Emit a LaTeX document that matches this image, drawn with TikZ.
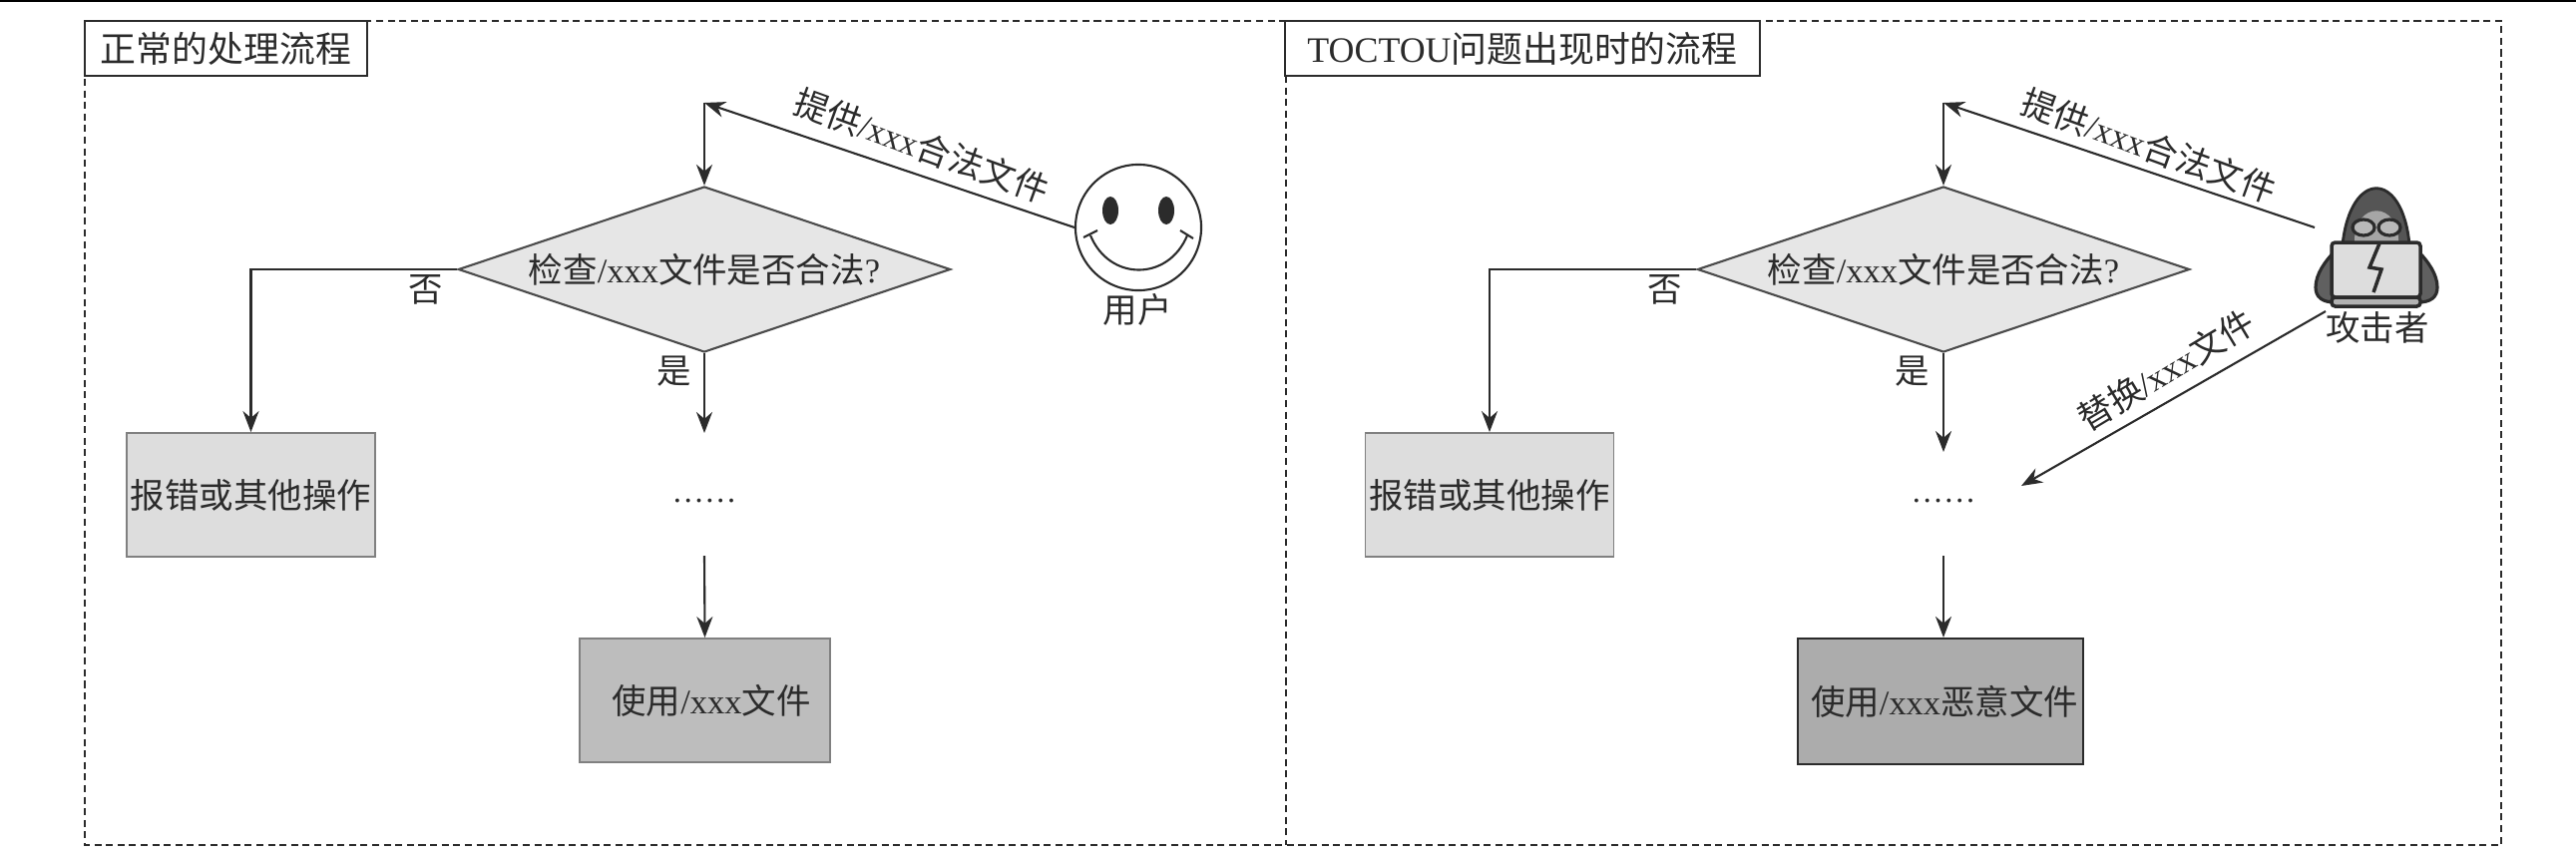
\documentclass[tikz,border=0pt]{standalone}
\usepackage{fontspec}
\setmainfont{Liberation Serif}
\newfontfamily\cjk{Noto Sans CJK SC}
\usetikzlibrary{arrows.meta,shapes.geometric}
\newcommand{\zh}[1]{{\cjk #1}}
\definecolor{inkc}{HTML}{2B2B2B}
\definecolor{errc}{HTML}{DDDDDD}
\definecolor{askc}{HTML}{E6E6E6}
\definecolor{usec}{HTML}{BDBDBD}
\definecolor{badc}{HTML}{ACACAC}
\tikzset{
  txt/.style={text=inkc,inner sep=0pt,font=\fontsize{9.8pt}{12pt}\selectfont},
  title/.style={draw=inkc,line width=0.6pt,fill=white,text=inkc,inner sep=0pt,minimum height=0.55cm,font=\fontsize{10.2pt}{12pt}\selectfont},
  frame/.style={draw=inkc,line width=0.55pt,dash pattern=on 2pt off 1.3pt},
  ask/.style={txt,draw=inkc!85,line width=0.6pt,fill=askc,diamond,shape aspect=2.97,minimum width=4.93cm,minimum height=1.66cm},
  errbox/.style={txt,draw=gray,line width=0.5pt,fill=errc,minimum width=2.49cm,minimum height=1.24cm},
  conn/.style={draw=inkc,line width=0.6pt},
}
\begin{document}
\begin{tikzpicture}[>={Stealth[length=2.1mm,width=1.6mm]},x=0.01cm,y=-0.01cm]
  \useasboundingbox (0,0) rectangle (2582,860);
  \fill[black] (0,0) rectangle (2582,2);
  % dashed panels
  \draw[frame] (85,21) rectangle (2507,847);
  \draw[frame] (1289,76) -- (1289,847);
  \node[title,minimum width=2.83cm] (t1) at (226.5,48.5) {\zh{正常的处理流程}};
  \node[title,minimum width=4.76cm] (t2) at (1526,48.5) {TOCTOU\zh{问题出现时的流程}};

  % left panel
  \coordinate (j1) at (706,103);
  \node[ask] (d1) at (706,270) {\zh{检查}/xxx\zh{文件是否合法}?};
  \node[errbox] (e1) at (251.5,496) {\raisebox{-0.01cm}{\zh{报错或其他操作}}};
  \coordinate (k1) at (706,434);
  \node[txt,font=\fontsize{9.2pt}{12pt}\selectfont] (m1) at (706,502) {……};
  \coordinate (n1) at (706,557);
  \node[txt,draw=gray,line width=0.5pt,fill=usec,minimum width=2.51cm,minimum height=1.24cm] (u1) at (706.5,702) {\hspace*{0.13cm}\raisebox{-0.03cm}{\zh{使用}/xxx\zh{文件}}};
  \node[circle,draw=inkc,line width=0.6pt,minimum size=1.26cm,inner sep=0pt] (user) at (1141,228) {};
  \fill[inkc] (1113,211) ellipse (8 and 14);
  \fill[inkc] (1169,211) ellipse (8 and 14);
  \draw[inkc,line width=0.6pt] (1093,236) .. controls (1112,282) and (1171,282) .. (1190,236);
  \draw[inkc,line width=0.6pt] (1086,238) -- (1100,231);
  \draw[inkc,line width=0.6pt] (1183,231) -- (1196,239);
  \node[txt] (l1) at (1140,310) {\zh{用户}};
  \node[txt,rotate=-20] (s1) at (924,146) {\zh{提供}/xxx\zh{合法文件}};
  \node[txt] (no1) at (427,290) {\zh{否}};
  \node[txt] (yes1) at (676,372) {\zh{是}};
  \draw[conn,->] (user.west) -- (j1);
  \draw[conn,->] (j1) -- (d1.north);
  \draw[conn,->] (d1.west) -| (e1.north);
  \draw[conn,->] (d1.south) -- (k1);
  \draw[conn,->] (n1) -- (u1.north);

  % right panel
  \coordinate (j2) at (1948,103);
  \node[ask] (d2) at (1948,270) {\zh{检查}/xxx\zh{文件是否合法}?};
  \node[errbox] (e2) at (1493,496) {\raisebox{-0.01cm}{\zh{报错或其他操作}}};
  \coordinate (k2) at (1948,453);
  \node[txt,font=\fontsize{9.2pt}{12pt}\selectfont] (m2) at (1948,502) {……};
  \coordinate (n2) at (1948,557);
  \node[txt,draw=inkc,line width=0.6pt,fill=badc,minimum width=2.86cm,minimum height=1.26cm] (u2) at (1945,703) {\hspace*{0.08cm}\raisebox{-0.03cm}{\zh{使用}/xxx\zh{恶意文件}}};
  \coordinate (a1) at (2320,228);
  \coordinate (a2) at (2331,312);
  \coordinate (r2) at (2026,487);
  % attacker
  \filldraw[fill=inkc!75,draw=inkc,line width=0.9pt] (2342,250) .. controls (2330,262) and (2321,275) .. (2321,288) .. controls (2321,298) and (2328,303) .. (2340,303) -- (2424,303) .. controls (2436,303) and (2443,298) .. (2443,288) .. controls (2443,275) and (2434,262) .. (2422,250) -- cycle;
  \filldraw[fill=inkc!80,draw=inkc,line width=0.8pt] (2348,245) .. controls (2356,170) and (2408,170) .. (2415,245) -- cycle;
  \fill[gray!70] (2360,245) .. controls (2358,200) and (2406,200) .. (2404,245) -- cycle;
  \filldraw[fill=gray!55,draw=inkc,line width=0.9pt] (2369,228) ellipse (11 and 8);
  \filldraw[fill=gray!55,draw=inkc,line width=0.9pt] (2395,228) ellipse (11 and 8);
  \filldraw[fill=errc,draw=inkc,line width=1pt,rounded corners=1pt] (2337,243) rectangle (2426,298);
  \filldraw[fill=gray!60,draw=inkc,line width=1pt,rounded corners=1pt] (2337,298) rectangle (2426,307);
  \draw[inkc,line width=1pt] (2385,244) -- (2375,268) -- (2387,270) -- (2379,293);
  \node[txt] (l2) at (2383,328) {\zh{攻击者}};
  \node[txt,rotate=-20] (s2) at (2154,146) {\zh{提供}/xxx\zh{合法文件}};
  \node[txt,rotate=31] (s3) at (2171,371) {\zh{替换}/xxx\zh{文件}};
  \node[txt] (no2) at (1669,290) {\zh{否}};
  \node[txt] (yes2) at (1917,372) {\zh{是}};
  \draw[conn,->] (a1) -- (j2);
  \draw[conn,->] (j2) -- (d2.north);
  \draw[conn,->] (d2.west) -| (e2.north);
  \draw[conn,->] (d2.south) -- (k2);
  \draw[conn,->] (a2) -- (r2);
  \draw[conn,->] (n2) -- (u2.north -| n2);
\end{tikzpicture}
\end{document}
